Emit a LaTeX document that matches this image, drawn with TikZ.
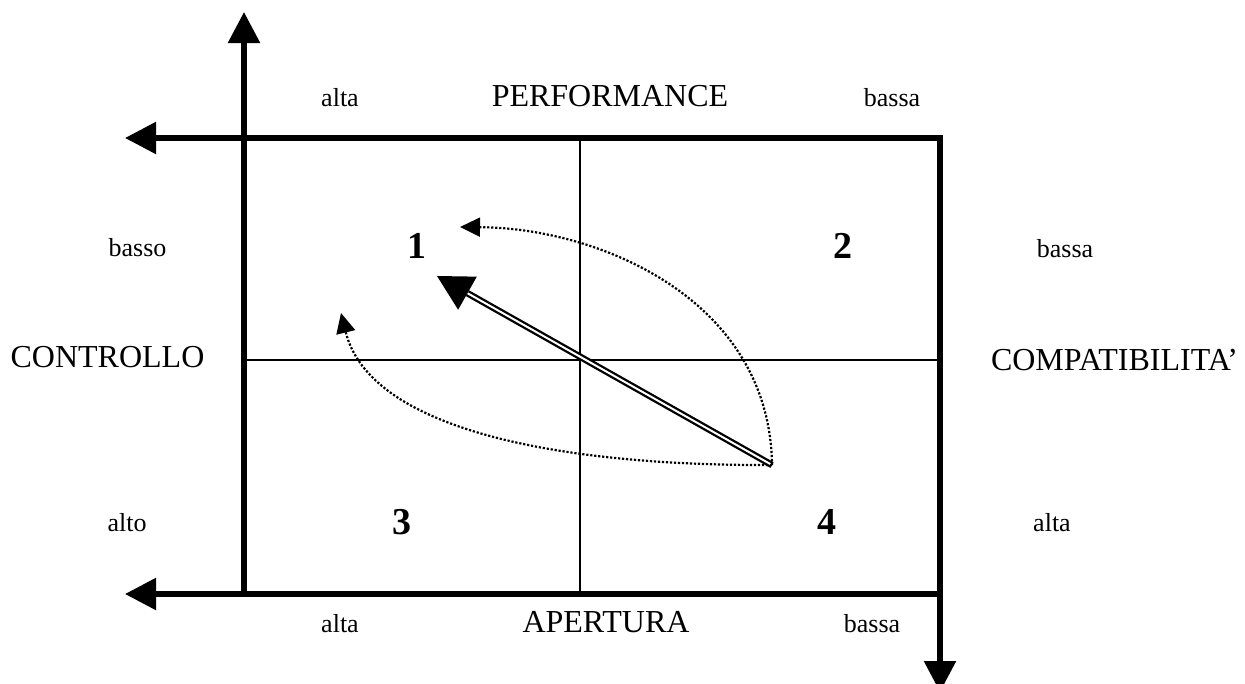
\documentclass[tikz,border=0pt]{standalone}
\usepackage{fontspec}
\setmainfont{Liberation Serif}
\usetikzlibrary{arrows.meta,calc}
\begin{document}
\begin{tikzpicture}[x=1pt,y=-1pt,
  axis/.style={line width=5.5pt,line cap=rect,-{Triangle[length=31pt,width=31pt]}},
  thin/.style={line width=1.5pt},
  dotcurve/.style={line width=2.2pt,dash pattern=on 2.2pt off 1.8pt,-{Triangle[length=20pt,width=19pt]}},
  small/.style={font=\fontsize{26}{30}\selectfont,anchor=base,inner sep=0pt},
  big/.style={font=\fontsize{32}{36}\selectfont,anchor=base,inner sep=0pt},
  num/.style={font=\fontsize{38}{42}\selectfont\bfseries,anchor=base,inner sep=0pt}]
\useasboundingbox (0,0) rectangle (1245,683);
% corners and tips
\coordinate (TL) at (244,138);
\coordinate (TR) at (940,138);
\coordinate (BL) at (244,594);
\coordinate (BR) at (940,594);
\coordinate (upTip) at (244,12);
\coordinate (leftTopTip) at (125,138);
\coordinate (leftBotTip) at (125,594);
\coordinate (downTip) at (940,692);
\coordinate (midT) at (580,138);
\coordinate (midB) at (580,594);
\coordinate (midL) at (244,360);
\coordinate (midR) at (940,360);
% axes
\draw[axis] (BL) -- (upTip);
\draw[axis] (TR) -- (leftTopTip);
\draw[axis] (BR) -- (leftBotTip);
\draw[axis] (TR) -- (downTip);
% quadrant lines
\draw[thin] (midT) -- (midB);
\draw[thin] (midL) -- (midR);
% double arrow
\coordinate (tail) at (772,465);
\coordinate (tip) at (437,276);
\coordinate (base) at ($(tip)!35pt!(tail)$);
\draw[line width=2.3pt,double,double distance=2pt] (tail) -- (base);
\fill ($(base)!19pt!90:(tail)$) -- (tip) -- ($(base)!19pt!-90:(tail)$) -- cycle;
% dotted curves
\coordinate (upEnd) at (460,227);
\coordinate (lowEnd) at (341,313);
\draw[dotcurve] (tail) .. controls (770,300) and (600,228) .. (upEnd);
\draw[dotcurve] (tail) .. controls (560,466) and (370,430) .. (lowEnd);
% labels
\node[small] (tA) at (340,106) {alta};
\node[big] (tP) at (610,106) {PERFORMANCE};
\node[small] (tB) at (892,106) {bassa};
\node[small] (lB) at (137.5,256) {basso};
\node[big] (lC) at (107.5,367) {CONTROLLO};
\node[small] (lA) at (127,531) {alto};
\node[small] (rB) at (1065,257) {bassa};
\node[big] (rC) at (1114.5,370) {COMPATIBILITA'};
\node[small] (rA) at (1052,531) {alta};
\node[small] (bA) at (340,632) {alta};
\node[big] (bP) at (606,632) {APERTURA};
\node[small] (bB) at (872,632) {bassa};
\node[num] (n1) at (416.5,258) {1};
\node[num] (n2) at (843,258) {2};
\node[num] (n3) at (402,534) {3};
\node[num] (n4) at (827,534) {4};
\end{tikzpicture}
\end{document}
